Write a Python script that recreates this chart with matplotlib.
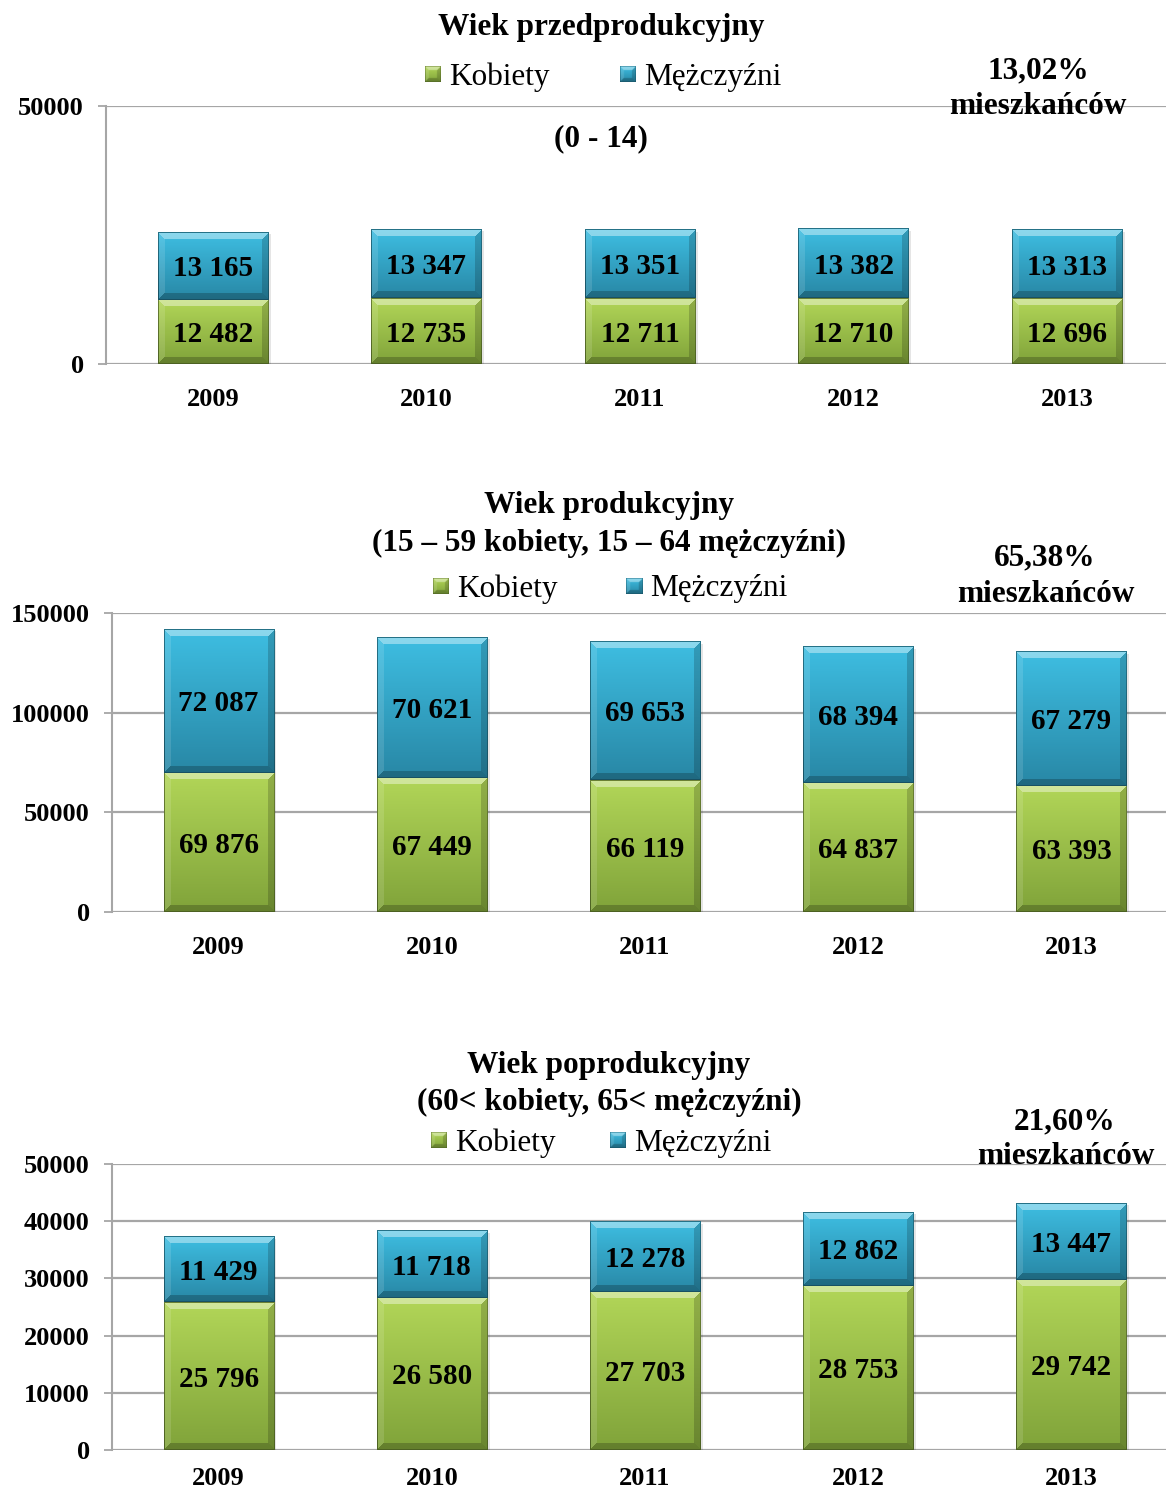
import numpy as np
import matplotlib
matplotlib.use("Agg")
import matplotlib.pyplot as plt

W, H = 1166, 1493
DPI = 100

years = ["2009", "2010", "2011", "2012", "2013"]

kob_pre = [12482, 12735, 12711, 12710, 12696]
mez_pre = [13165, 13347, 13351, 13382, 13313]

kob_prod = [69876, 67449, 66119, 64837, 63393]
mez_prod = [72087, 70621, 69653, 68394, 67279]

kob_post = [25796, 26580, 27703, 28753, 29742]
mez_post = [11429, 11718, 12278, 12862, 13447]

legend_labels = ["Kobiety", "Mężczyźni"]

plt.rcParams['font.family'] = ['Liberation Serif', 'DejaVu Serif']

GREEN_TOP = np.array([178, 214, 88]) / 255
GREEN_BOT = np.array([128, 163, 58]) / 255
BLUE_TOP = np.array([62, 190, 226]) / 255
BLUE_BOT = np.array([40, 135, 165]) / 255
GRID = "#a6a6a6"
DY = 3  # vertical text offset in px


def bevel_image(hpx, wpx, top, bot, b=7):
    hpx = max(int(round(hpx)), 2)
    wpx = max(int(round(wpx)), 2)
    yy, xx = np.mgrid[0:hpx, 0:wpx]
    t = (yy / max(hpx - 1, 1))[..., None]
    img = top * (1 - t) + bot * t
    dt = yy
    db = hpx - 1 - yy
    dl = xx
    dr = wpx - 1 - xx
    d = np.stack([dt, db, dl, dr])
    which = np.argmin(d, axis=0)
    mind = np.min(d, axis=0)
    inb = mind < b
    out = img.copy()
    white = np.ones(3)
    black = np.zeros(3)
    m = inb & (which == 0)
    out[m] = img[m] * 0.6 + white * 0.4
    m = inb & (which == 1)
    out[m] = img[m] * 0.78 + black * 0.22
    m = inb & (which == 2)
    out[m] = img[m] * 0.88 + white * 0.12
    m = inb & (which == 3)
    out[m] = img[m] * 0.82 + black * 0.18
    edge = mind < 1
    out[edge] = img[edge] * 0.6
    return np.clip(out, 0, 1)


def make_axes(left, top, bottom, width):
    ax = fig.add_axes([left / W, 1 - bottom / H, width / W, (bottom - top) / H])
    return ax


def draw_panel(ax, kob, mez, ymax, yticks, axh_px, bar_w_px, xpad=17):
    n = len(kob)
    x = np.arange(n)
    bw = 0.516
    ax.set_xlim(-0.5, n - 0.5)
    ax.set_ylim(0, ymax)
    for i in range(n):
        segs = [(0, kob[i], GREEN_TOP, GREEN_BOT), (kob[i], kob[i] + mez[i], BLUE_TOP, BLUE_BOT)]
        sh_h = (kob[i] + mez[i])
        ax.bar(x[i] + 0.008, sh_h, bottom=-ymax * 0.008, width=bw + 0.01, color="#000000",
               alpha=0.10, zorder=2, linewidth=0)
        for (y0, y1, ct, cb) in segs:
            hpx = (y1 - y0) / ymax * axh_px
            img = bevel_image(hpx, bar_w_px, ct, cb)
            ax.imshow(img, extent=(x[i] - bw / 2, x[i] + bw / 2, y0, y1), origin='upper',
                      aspect='auto', interpolation='nearest', zorder=3)
            ax.annotate(f"{(y1 - y0):,}".replace(",", " "), (x[i], (y0 + y1) / 2),
                        xytext=(0, -DY), textcoords='offset pixels',
                        ha='center', va='center', fontsize=21, fontweight='bold', zorder=5)
    ax.set_xlim(-0.5, n - 0.5)
    ax.set_ylim(0, ymax)
    ax.set_xticks(x)
    ax.set_xticklabels(years, fontsize=19, fontweight='bold')
    ax.set_yticks(yticks)
    ax.set_yticklabels([str(v) for v in yticks], fontsize=19, fontweight='bold')
    ax.tick_params(axis='x', length=0, pad=xpad)
    ax.tick_params(axis='y', length=6, width=1.3, color=GRID, pad=10)
    for s in ['top', 'right', 'bottom']:
        ax.spines[s].set_visible(False)
    ax.spines['left'].set_color(GRID)
    ax.spines['left'].set_linewidth(1.5)
    ax.yaxis.grid(True, color=GRID, linewidth=1.6)
    ax.set_axisbelow(True)
    ax.patch.set_alpha(0)


def legend_marker(cx, cy, top, bot):
    s = 16
    a = fig.add_axes([(cx - s / 2) / W, 1 - (cy + s / 2) / H, s / W, s / H])
    a.imshow(bevel_image(s * 2, s * 2, top, bot, b=8), aspect='auto', interpolation='bilinear')
    a.axis('off')


def legend(y, mk1, tx1, mk2, tx2):
    legend_marker(mk1, y, GREEN_TOP, GREEN_BOT)
    fig.text(tx1 / W, 1 - (y + DY) / H, legend_labels[0], fontsize=22.5, ha='left', va='center')
    legend_marker(mk2, y, BLUE_TOP, BLUE_BOT)
    fig.text(tx2 / W, 1 - (y + DY) / H, legend_labels[1], fontsize=22.5, ha='left', va='center')


def ftext(x, y, s, **kw):
    fig.text(x / W, 1 - (y + DY) / H, s, ha='center', va='center', fontsize=22.5,
             fontweight='bold', **kw)


fig = plt.figure(figsize=(W / DPI, H / DPI), dpi=DPI)

# Panel 1
ax1 = make_axes(106, 106, 364, 1068)
draw_panel(ax1, kob_pre, mez_pre, 50000, [0, 50000], 258, 110)
ftext(601, 25, "Wiek przedprodukcyjny")
legend(74, 433, 449, 628, 644)
ftext(601, 136, "(0 - 14)")
ftext(1038, 68, "13,02%")
ftext(1038, 104, "mieszkańców")

# Panel 2
ax2 = make_axes(112, 613, 912, 1066)
draw_panel(ax2, kob_prod, mez_prod, 150000, [0, 50000, 100000, 150000], 299, 110)
ftext(609, 502, "Wiek produkcyjny")
ftext(609, 540, "(15 – 59 kobiety, 15 – 64 mężczyźni)")
legend(586, 441, 457, 634, 650)
ftext(1045, 555, "65,38%")
ftext(1046, 591, "mieszkańców")

# Panel 3
ax3 = make_axes(112, 1164, 1450, 1066)
draw_panel(ax3, kob_post, mez_post, 50000, [0, 10000, 20000, 30000, 40000, 50000], 286, 110,
           xpad=12)
ftext(609, 1062, "Wiek poprodukcyjny")
ftext(609, 1099, "(60< kobiety, 65< mężczyźni)")
legend(1140, 439, 455, 618, 634)
ftext(1065, 1119, "21,60%")
ftext(1066, 1153, "mieszkańców")

fig.savefig("out.png", dpi=DPI)
